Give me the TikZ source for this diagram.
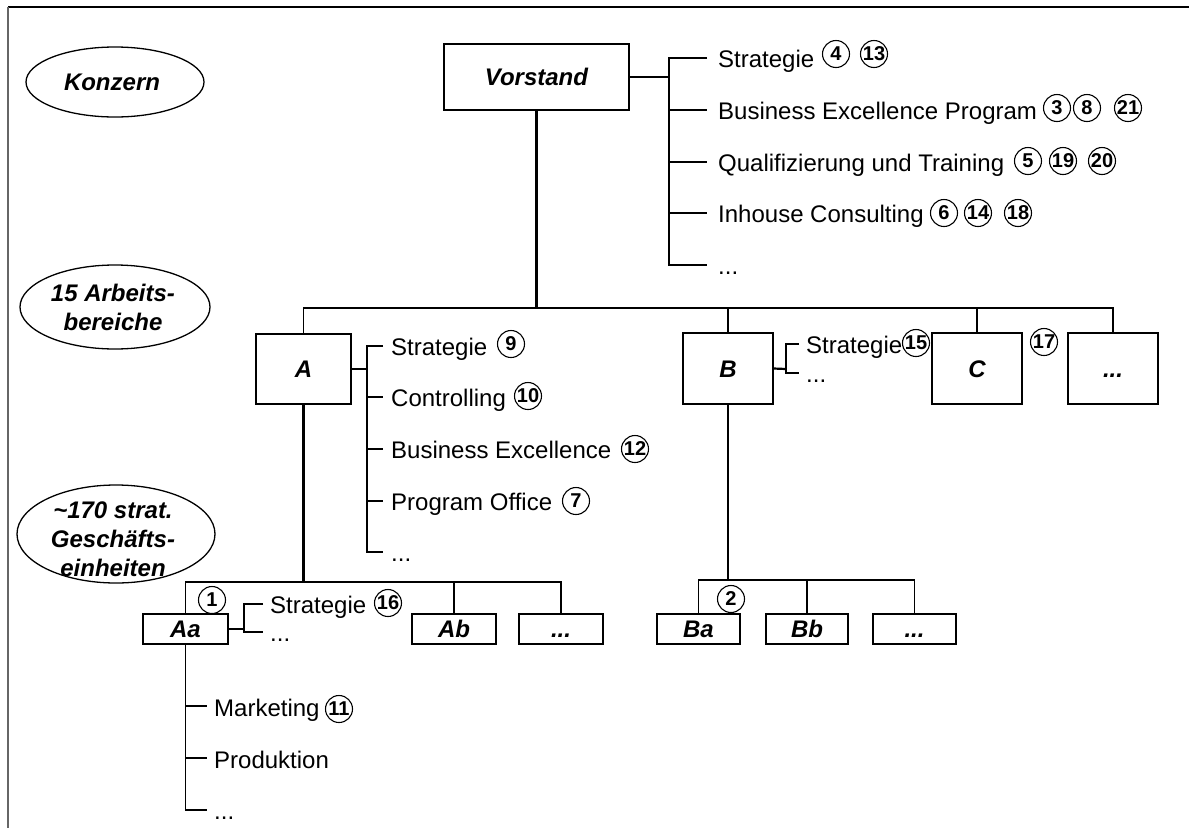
\documentclass[tikz,border=0pt]{standalone}
\usepackage{fontspec}
\setmainfont{Liberation Sans}
\usetikzlibrary{shapes.geometric}
\begin{document}
\begin{tikzpicture}[x=1pt,y=-1pt,
  unit/.style={draw, line width=1.3pt, inner sep=0pt, text height=17.3pt, text depth=0pt,
    font=\bfseries\itshape\fontsize{24}{29}\selectfont},
  band/.style={ellipse, draw, line width=1.3pt, inner sep=0pt},
  bandtext/.style={anchor=base, inner sep=0pt, font=\bfseries\itshape\fontsize{24}{29}\selectfont},
  lbl/.style={anchor=base west, inner sep=0pt, font=\fontsize{24}{29}\selectfont},
  num/.style={circle, draw, line width=1.1pt, minimum size=27pt, inner sep=0pt,
    font=\bfseries\fontsize{20}{22}\selectfont},
  link/.style={line width=1.3pt},
  rail/.style={line width=1.7pt},
  stem/.style={line width=2.2pt}]

\useasboundingbox (0,0) rectangle (1189,828);
\fill[white] (0,0) rectangle (1189,828);
\draw[line width=1.6pt] (8,7) -- (1189,7);
\draw[line width=2.4pt, black!60] (8,7) -- (8,828);

% level bubbles on the left, one text line per node
\node[band, minimum width=178pt, minimum height=70pt] (konzern) at (115,82) {};
\node[bandtext] (konzern-t) at (112,90.5) {Konzern};
\node[band, minimum width=190pt, minimum height=84pt] (ab) at (115,307) {};
\node[bandtext] (ab-t1) at (113,301.5) {15 Arbeits-};
\node[bandtext] (ab-t2) at (113,330.5) {bereiche};
\node[band, minimum width=198pt, minimum height=98pt] (ge) at (116,534) {};
\node[bandtext] (ge-t1) at (113,518.5) {\textasciitilde170 strat.};
\node[bandtext] (ge-t2) at (113,547) {Geschäfts-};
\node[bandtext] (ge-t3) at (113,576) {einheiten};

% units
\node[unit, minimum width=185pt, minimum height=66pt] (V) at (536.5,77) {Vorstand};
\node[unit, minimum width=95pt, minimum height=70pt] (A) at (303.5,369) {A};
\node[unit, minimum width=90pt, minimum height=71pt] (B) at (728,368.5) {B};
\node[unit, minimum width=90pt, minimum height=71pt] (C) at (977,368.5) {C};
\node[unit, minimum width=90pt, minimum height=71pt] (D) at (1113,368.5) {...};
\node[unit, minimum width=85pt, minimum height=30pt] (Aa) at (185.5,629) {Aa};
\node[unit, minimum width=84pt, minimum height=30pt] (Ab) at (454,629) {Ab};
\node[unit, minimum width=84pt, minimum height=30pt] (Ad) at (561,629) {...};
\node[unit, minimum width=83pt, minimum height=30pt] (Ba) at (698.5,629) {Ba};
\node[unit, minimum width=82pt, minimum height=30pt] (Bb) at (807,629) {Bb};
\node[unit, minimum width=83pt, minimum height=30pt] (Bd) at (914.5,629) {...};

% Vorstand functions
\draw[stem] (V.east) -- (669,77);
\draw[rail] (707,58) -- (669,58) -- (669,265) -- (707,265);
\foreach \y in {110,162,213} \draw[link] (669,\y) -- (707,\y);
\node[lbl] (v1) at (718,67) {Strategie};
\node[lbl] (v2) at (718,119) {Business Excellence Program};
\node[lbl] (v3) at (718,171) {Qualifizierung und Training};
\node[lbl] (v4) at (718,222) {Inhouse Consulting};
\node[lbl] (v5) at (718,274) {...};
\node[num] (n4) at (836,54) {4};
\node[num] (n13) at (874,54) {13};
\node[num] (n3) at (1057,108) {3};
\node[num] (n8) at (1087,108) {8};
\node[num] (n21) at (1128,108) {21};
\node[num] (n5) at (1028,161) {5};
\node[num] (n19) at (1063,161) {19};
\node[num] (n20) at (1102,161) {20};
\node[num] (n6) at (944,213) {6};
\node[num] (n14) at (978,213) {14};
\node[num] (n18) at (1018,213) {18};

% Arbeitsbereiche
\coordinate (j1) at (536.5,308);
\draw[stem] (V.south) -- (j1);
\draw[rail] (A.north) |- (j1) -| (D.north);
\draw[link] (B.north) -- (B.north |- j1);
\draw[link] (C.north) -- (C.north |- j1);

% functions of A
\draw[stem] (A.east) -- (367,369);
\draw[rail] (383,346) -- (367,346) -- (367,552) -- (383,552);
\foreach \y in {397,449,501} \draw[link] (367,\y) -- (383,\y);
\node[lbl] (a1) at (391,355) {Strategie};
\node[lbl] (a2) at (391,406) {Controlling};
\node[lbl] (a3) at (391,458) {Business Excellence};
\node[lbl] (a4) at (391,510) {Program Office};
\node[lbl] (a5) at (391,561) {...};
\node[num] (n9) at (511,344) {9};
\node[num] (n10) at (528,396) {10};
\node[num] (n12) at (635,449) {12};
\node[num] (n7) at (576,501) {7};

% functions of B
\draw[stem] (B.east) -- (786,369);
\draw[rail] (799,344) -- (786,344) -- (786,373) -- (799,373);
\node[lbl] (b1) at (806,353) {Strategie};
\node[lbl] (b2) at (806,382) {...};
\node[num] (n15) at (916,343) {15};
\node[num] (n17) at (1044,342) {17};

% Geschaeftseinheiten of A
\coordinate (j2) at (303.5,582);
\draw[stem] (A.south) -- (j2);
\draw[rail] (Aa.north) |- (j2) -| (Ad.north);
\draw[link] (Ab.north) -- (Ab.north |- j2);
\node[num] (n1) at (212,600) {1};

\draw[stem] (Aa.east) -- (244,629);
\draw[rail] (263,604) -- (244,604) -- (244,632) -- (263,632);
\node[lbl] (aa1) at (270,613) {Strategie};
\node[lbl] (aa2) at (270,641) {...};
\node[num] (n16) at (388,603) {16};

\draw[rail] (Aa.south) -- (185.5,810) -- (207,810);
\foreach \y in {706,758} \draw[link] (185.5,\y) -- (207,\y);
\node[lbl] (m1) at (214,716) {Marketing};
\node[lbl] (m2) at (214,768) {Produktion};
\node[lbl] (m3) at (214,819) {...};
\node[num] (n11) at (339,709) {11};

% Geschaeftseinheiten of B
\coordinate (j3) at (728,580);
\draw[stem] (B.south) -- (j3);
\draw[rail] (Ba.north) |- (j3) -| (Bd.north);
\draw[link] (Bb.north) -- (Bb.north |- j3);
\node[num] (n2) at (731,599) {2};
\end{tikzpicture}
\end{document}
